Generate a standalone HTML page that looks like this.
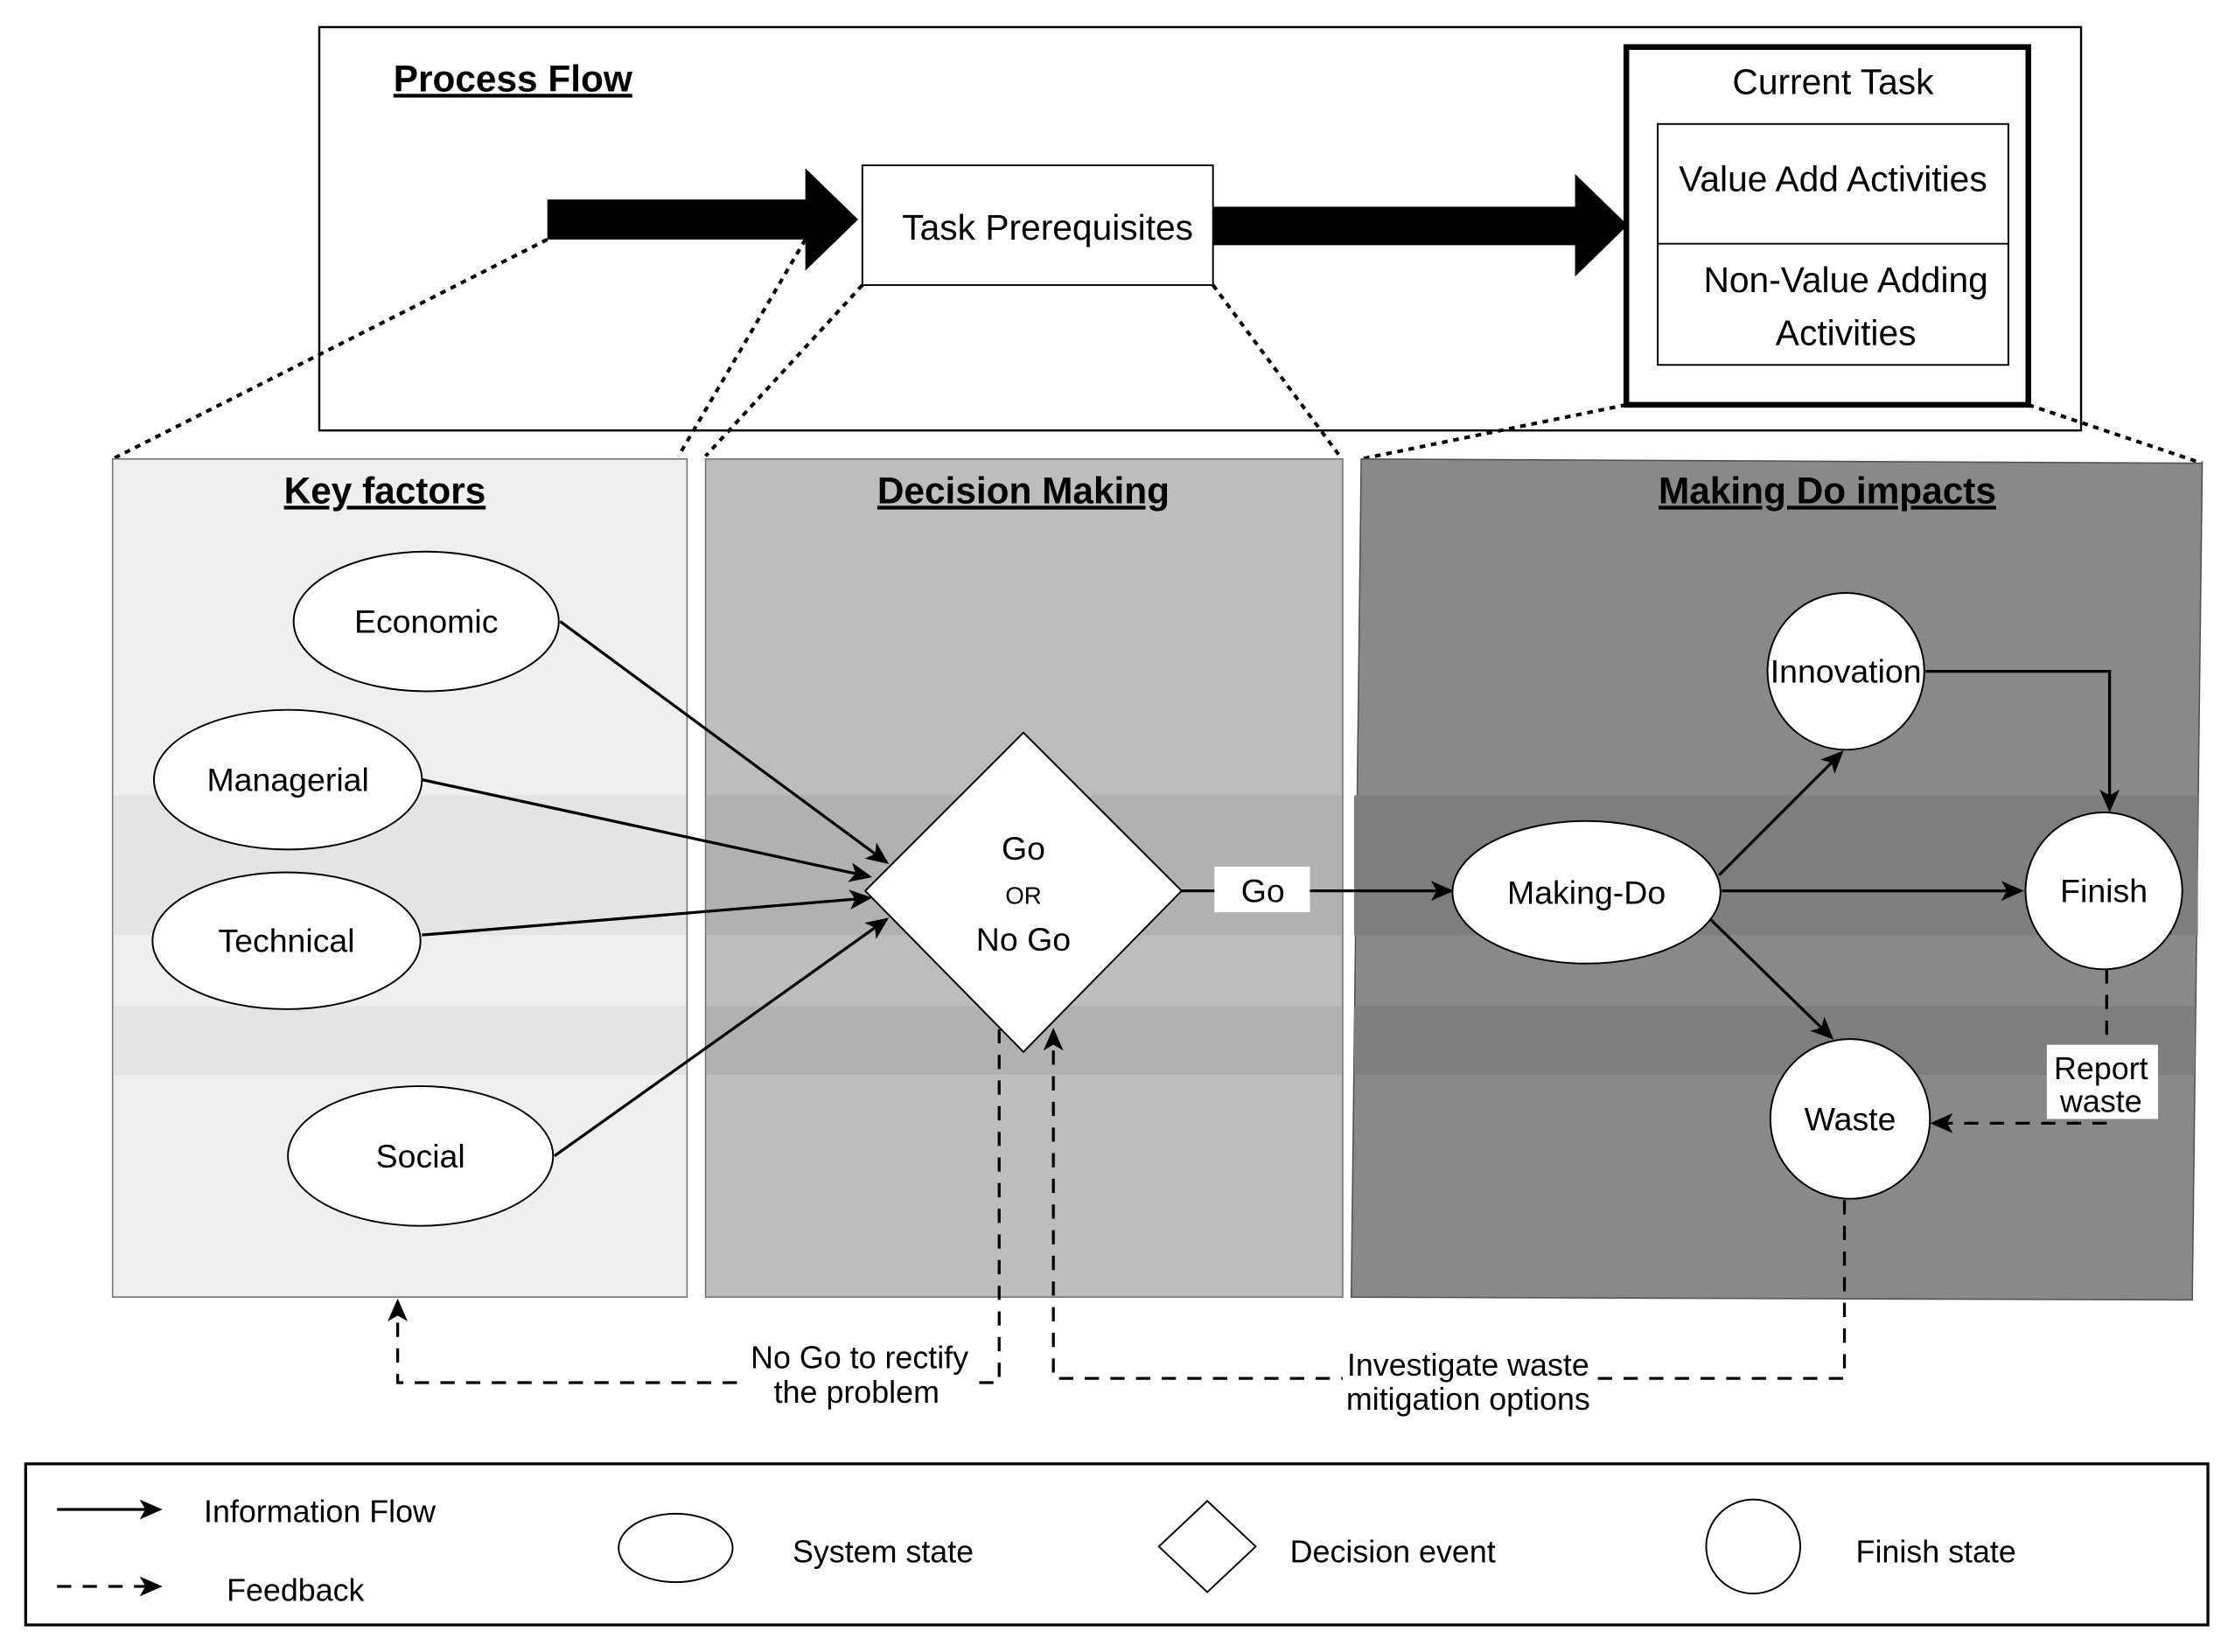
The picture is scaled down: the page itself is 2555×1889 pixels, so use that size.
<!DOCTYPE html>
<html><head><meta charset="utf-8"><style>html,body{margin:0;padding:0;background:#fff}svg{display:block}</style></head>
<body>
<svg width="2555" height="1889" viewBox="0 0 1568 1159" preserveAspectRatio="none" xmlns="http://www.w3.org/2000/svg" font-family="Liberation Sans, sans-serif">
<defs>
<marker id="ah" markerWidth="10" markerHeight="10" refX="9" refY="5" orient="auto" markerUnits="userSpaceOnUse" viewBox="0 0 10 10"><path d="M0,0 L10,5 L0,10 L3,5 z" fill="#000"/></marker>
<marker id="ah2" markerWidth="16" markerHeight="16" refX="14" refY="8" orient="auto" markerUnits="userSpaceOnUse" viewBox="0 0 16 16"><path d="M0,1 L16,8 L0,15 L4,8 z" fill="#000"/></marker>
</defs>
<rect x="0" y="0" width="1568" height="1159" fill="#fff"/>
<!-- top box -->
<rect x="224" y="19" width="1236" height="283" fill="#fff" stroke="#000" stroke-width="1.5"/>
<text x="276" y="64" font-size="26" font-weight="bold" text-decoration="underline">Process Flow</text>
<polygon points="384,140 565,140 565,118 602,154 565,190 565,168 384,168" fill="#000"/>
<rect x="605" y="116" width="246" height="84" fill="#fff" stroke="#000" stroke-width="1.2"/>
<text x="735" y="168" font-size="25" text-anchor="middle">Task Prerequisites</text>
<polygon points="851,145 1105,145 1105,122 1142,158 1105,194 1105,172 851,172" fill="#000"/>
<rect x="1141" y="33" width="282" height="251" fill="#fff" stroke="#000" stroke-width="4"/>
<text x="1286" y="66" font-size="25" text-anchor="middle">Current Task</text>
<rect x="1163" y="87" width="246" height="169" fill="#fff" stroke="#000" stroke-width="1.2"/>
<line x1="1163" y1="171" x2="1409" y2="171" stroke="#000" stroke-width="1.2"/>
<text x="1286" y="134" font-size="25" text-anchor="middle">Value Add Activities</text>
<text x="1295" y="205" font-size="25" text-anchor="middle">Non-Value Adding</text>
<text x="1295" y="242" font-size="25" text-anchor="middle">Activities</text>
<!-- dotted -->
<g stroke="#000" stroke-width="2.5" stroke-dasharray="4,4" fill="none">
<line x1="384" y1="168" x2="79" y2="322"/>
<line x1="565" y1="168" x2="476" y2="320"/>
<line x1="605" y1="200" x2="495" y2="320"/>
<line x1="851" y1="200" x2="940" y2="320"/>
<line x1="1141" y1="284" x2="955" y2="322"/>
<line x1="1423" y1="284" x2="1545" y2="325"/>
</g>
<!-- panels -->
<rect x="79" y="322" width="403" height="588" fill="#efefef" stroke="#777" stroke-width="1"/>
<rect x="80" y="558" width="401" height="98" fill="#e4e4e4"/>
<rect x="80" y="706" width="401" height="48" fill="#e4e4e4"/>
<rect x="495" y="322" width="447" height="588" fill="#bdbdbd" stroke="#777" stroke-width="1"/>
<rect x="496" y="558" width="445" height="98" fill="#b1b1b1"/>
<rect x="496" y="706" width="445" height="48" fill="#b1b1b1"/>
<polygon points="955,322 1545,325 1538,912 948,910" fill="#898989" stroke="#555" stroke-width="1"/>
<rect x="950" y="558" width="592" height="98" fill="#7e7e7e"/>
<rect x="950" y="706" width="590" height="48" fill="#7e7e7e"/>
<text x="270" y="353" font-size="26" font-weight="bold" text-anchor="middle" text-decoration="underline">Key factors</text>
<text x="718" y="353" font-size="26" font-weight="bold" text-anchor="middle" text-decoration="underline">Decision Making</text>
<text x="1282" y="353" font-size="26" font-weight="bold" text-anchor="middle" text-decoration="underline">Making Do impacts</text>
<!-- ellipses -->
<g fill="#fff" stroke="#000" stroke-width="1.2">
<ellipse cx="299" cy="436" rx="93" ry="49"/>
<ellipse cx="202" cy="547" rx="94" ry="49"/>
<ellipse cx="201" cy="660" rx="94" ry="48"/>
<ellipse cx="295" cy="811" rx="93" ry="49"/>
<polygon points="718,514 829,625 718,738 607,625"/>
<ellipse cx="1113" cy="626" rx="94" ry="50"/>
<circle cx="1295" cy="471" r="55"/>
<circle cx="1476" cy="625" r="55"/>
<circle cx="1298" cy="785" r="56"/>
</g>
<g font-size="23" text-anchor="middle">
<text x="299" y="444">Economic</text>
<text x="202" y="555">Managerial</text>
<text x="201" y="668">Technical</text>
<text x="295" y="819">Social</text>
<text x="718" y="603">Go</text>
<text x="718" y="634" font-size="17">OR</text>
<text x="718" y="667">No Go</text>
<text x="1113" y="634">Making-Do</text>
<text x="1295" y="479">Innovation</text>
<text x="1476" y="633">Finish</text>
<text x="1298" y="793">Waste</text>
</g>
<!-- solid arrows -->
<g stroke="#000" stroke-width="2" fill="none" marker-end="url(#ah2)">
<line x1="393" y1="436" x2="622" y2="605"/>
<line x1="296" y1="547" x2="610" y2="615"/>
<line x1="296" y1="656" x2="610" y2="630"/>
<line x1="389" y1="811" x2="622" y2="645"/>
<line x1="829" y1="625" x2="1018" y2="625"/>
<line x1="1206" y1="614" x2="1292" y2="528"/>
<line x1="1208" y1="625" x2="1418" y2="625"/>
<line x1="1200" y1="645" x2="1285" y2="728"/>
<polyline points="1351,471 1480,471 1480,568"/>
</g>
<rect x="852" y="608" width="67" height="32" fill="#fff"/>
<text x="886" y="633" font-size="23" text-anchor="middle">Go</text>
<!-- dashed -->
<g stroke="#000" stroke-width="2" stroke-dasharray="10,8" fill="none" marker-end="url(#ah2)">
<polyline points="1478,680 1478,788 1356,788"/>
<polyline points="1294,842 1294,967 739,967 739,723"/>
<polyline points="701,722 701,970 279,970 279,913"/>
</g>
<rect x="1436" y="733" width="78" height="52" fill="#fff"/>
<text x="1474" y="757" font-size="22" text-anchor="middle">Report</text>
<text x="1474" y="780" font-size="22" text-anchor="middle">waste</text>
<rect x="942" y="944" width="178" height="50" fill="#fff"/>
<text x="1030" y="965" font-size="22" text-anchor="middle">Investigate waste</text>
<text x="1030" y="989" font-size="22" text-anchor="middle">mitigation options</text>
<rect x="522" y="940" width="160" height="50" fill="#fff"/>
<text x="603" y="960" font-size="22" text-anchor="middle">No Go to rectify</text>
<text x="601" y="984" font-size="22" text-anchor="middle">the problem</text>
<!-- legend -->
<rect x="18" y="1027" width="1531" height="113" fill="#fff" stroke="#000" stroke-width="2"/>
<line x1="40" y1="1059" x2="112" y2="1059" stroke="#000" stroke-width="2" marker-end="url(#ah2)"/>
<text x="143" y="1068" font-size="22">Information Flow</text>
<line x1="40" y1="1113" x2="112" y2="1113" stroke="#000" stroke-width="2" stroke-dasharray="10,8" marker-end="url(#ah2)"/>
<text x="159" y="1123" font-size="22">Feedback</text>
<ellipse cx="474" cy="1086" rx="40" ry="24" fill="#fff" stroke="#000" stroke-width="1.2"/>
<text x="556" y="1096" font-size="22">System state</text>
<polygon points="847,1053 881,1085 847,1117 813,1085" fill="#fff" stroke="#000" stroke-width="1.2"/>
<text x="905" y="1096" font-size="22">Decision event</text>
<circle cx="1230" cy="1085" r="33" fill="#fff" stroke="#000" stroke-width="1.2"/>
<text x="1302" y="1096" font-size="22">Finish state</text>
</svg>
</body></html>
